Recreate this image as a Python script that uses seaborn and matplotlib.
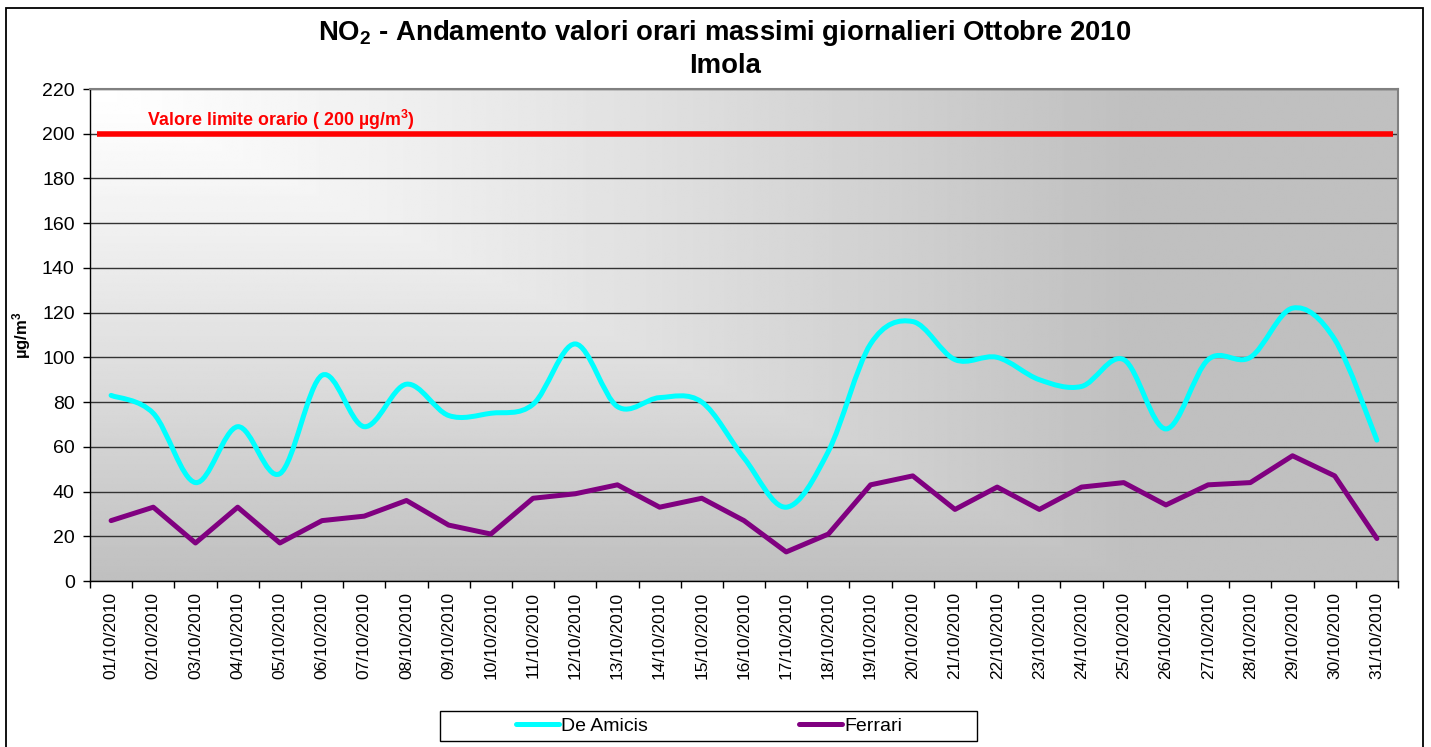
import numpy as np
import pandas as pd
import matplotlib
matplotlib.use("Agg")
import matplotlib.pyplot as plt
import seaborn as sns
from matplotlib.path import Path
from matplotlib.patches import PathPatch, Rectangle
from matplotlib.lines import Line2D

# dati: valori orari massimi giornalieri NO2, ottobre 2010
days = [f"{d:02d}/10/2010" for d in range(1, 32)]
de_amicis = [83, 75, 44, 69, 48, 92, 69, 88, 74, 75, 79, 106, 78, 82, 80, 55, 33,
             58, 106, 116, 99, 100, 90, 87, 99, 68, 99, 100, 122, 108, 63]
ferrari = [27, 33, 17, 33, 17, 27, 29, 36, 25, 21, 37, 39, 43, 33, 37, 27, 13,
           21, 43, 47, 32, 42, 32, 42, 44, 34, 43, 44, 56, 47, 19]
limit_value = 200
y_ticks = list(range(0, 221, 20))

sns.set_style("white")
plt.rcParams['font.family'] = ['Liberation Sans', 'DejaVu Sans']
plt.rcParams['mathtext.fontset'] = 'custom'
plt.rcParams['mathtext.rm'] = 'Liberation Sans'
plt.rcParams['mathtext.bf'] = 'Liberation Sans:bold'
plt.rcParams['mathtext.default'] = 'bf'
plt.rcParams['text.color'] = 'black'
plt.rcParams['xtick.color'] = 'black'
plt.rcParams['ytick.color'] = 'black'

W, H = 1431, 747
fig = plt.figure(figsize=(W / 100, H / 100), dpi=100)
ax = fig.add_axes([90 / W, 1 - 581 / H, 1308 / W, 492 / H])

# sfondo sfumato (bianco in alto a sinistra -> grigio)
u = np.linspace(0, 1, 500)
v = np.linspace(0, 1, 250)
U, V = np.meshgrid(u, v)
t = np.clip(np.maximum(U / 0.8, V), 0, 1) ** 1.15
shade = 1 - 0.25 * t
ax.imshow(shade, cmap='gray', vmin=0, vmax=1, extent=[-0.5, 30.5, 0, 220],
          aspect='auto', origin='upper', zorder=0, interpolation='bilinear')

df = pd.DataFrame({"giorno": np.arange(len(days)), "De Amicis": de_amicis, "Ferrari": ferrari})

# Ferrari: linea spezzata
sns.lineplot(data=df, x="giorno", y="Ferrari", color='#800080', lw=3.6, ax=ax, zorder=3)

# De Amicis: linea smussata (bezier come Excel)
P = df[["giorno", "De Amicis"]].to_numpy(dtype=float)
n = len(P)
verts = [P[0]]
codes = [Path.MOVETO]
for i in range(n - 1):
    p0 = P[i - 1] if i > 0 else P[i]
    p3 = P[i + 2] if i < n - 2 else P[i + 1]
    c1 = P[i] + (P[i + 1] - p0) / 6
    c2 = P[i + 1] - (p3 - P[i]) / 6
    verts += [c1, c2, P[i + 1]]
    codes += [Path.CURVE4] * 3
ax.add_patch(PathPatch(Path(verts, codes), facecolor='none', edgecolor='#00FFFF',
                       lw=3.6, capstyle='round', joinstyle='round', zorder=3))

# valore limite
ax.axhline(limit_value, xmin=0.005, xmax=0.996, color='#FF0000', lw=4, zorder=3,
           solid_capstyle='butt')
ax.text(0.85, 203.3, "Valore limite orario ( 200 µg/m$^3$)", color='#FF0000',
        fontweight='bold', fontsize=12.8, zorder=4)

ax.set_xlim(-0.5, 30.5)
ax.set_ylim(0, 220)
ax.set_xticks(range(len(days)))
ax.set_xticklabels(days, rotation=90, fontsize=12.5)
ax.set_xticks(np.arange(-0.5, len(days), 1), minor=True)
ax.tick_params(axis='x', which='major', length=0, pad=8)
ax.tick_params(axis='x', which='minor', length=5, width=1, color='black', direction='out', bottom=True)
ax.set_yticks(y_ticks)
ax.tick_params(axis='y', length=5, width=1, color='black', direction='out', pad=6,
               labelsize=14, left=True)
ax.yaxis.grid(True, color='#333333', lw=1)
ax.xaxis.grid(False)
ax.set_xlabel("")
ax.set_ylabel("")
for s in ['left', 'bottom']:
    ax.spines[s].set_color('black')
    ax.spines[s].set_linewidth(1)
for s in ['top', 'right']:
    ax.spines[s].set_color('#808080')
    ax.spines[s].set_linewidth(1.5)

# titoli
fig.text(725 / W, 1 - 33 / H, "NO$_2$ - Andamento valori orari massimi giornalieri Ottobre 2010",
         ha='center', va='center', fontsize=19.8, fontweight='bold')
fig.text(725 / W, 1 - 66 / H, "Imola", ha='center', va='center', fontsize=19.8, fontweight='bold')
fig.text(22 / W, 1 - 335 / H, "µg/m$^3$", rotation=90, ha='center', va='center',
         fontsize=12, fontweight='bold')

# legenda
handles = [Line2D([], [], color='#00FFFF', lw=3.6), Line2D([], [], color='#800080', lw=3.6)]
fig.legend(handles, ["De Amicis", "Ferrari"], loc='center', bbox_to_anchor=(709 / W, 1 - 726 / H),
           ncol=2, frameon=False, fontsize=14, handlelength=2.2, handletextpad=0.1,
           columnspacing=7.8)
fig.add_artist(Rectangle((440 / W, 1 - 741 / H), 537 / W, 30 / H, transform=fig.transFigure,
                         facecolor='none', edgecolor='black', lw=1))
fig.add_artist(Rectangle((6 / W, -0.05), 1417 / W, 1.05 - 8 / H, transform=fig.transFigure,
                         facecolor='none', edgecolor='black', lw=1.3, clip_on=False))

fig.savefig("out.png", dpi=100)
